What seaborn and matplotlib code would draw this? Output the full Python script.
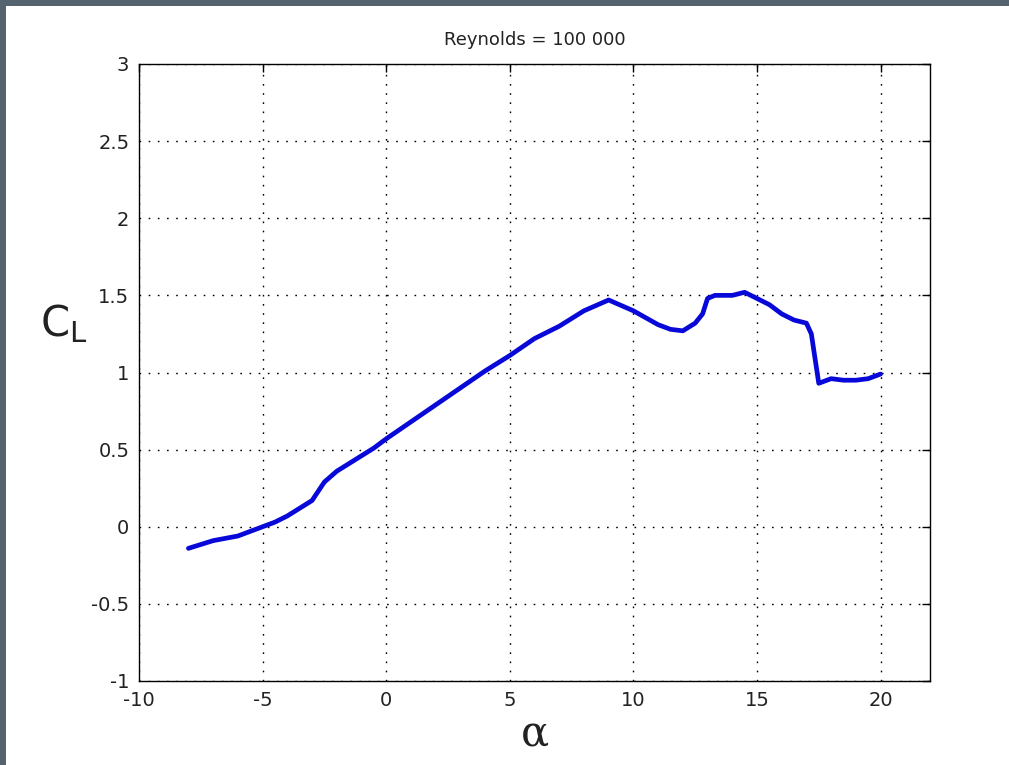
import matplotlib
matplotlib.use("Agg")
import matplotlib.pyplot as plt
from matplotlib.patches import Rectangle
import seaborn as sns
import pandas as pd

# Lift coefficient versus angle of attack
alpha = [-8, -7, -6, -5.5, -5, -4.5, -4, -3.5, -3, -2.5, -2, -1.5, -1, -0.5,
         0, 1, 2, 3, 4, 5, 6, 7, 8, 9, 10, 11, 11.5, 12, 12.5, 12.8, 13,
         13.3, 14, 14.5, 15, 15.5, 16, 16.5, 17, 17.2, 17.5, 18, 18.5, 19,
         19.5, 20]
cl = [-0.14, -0.09, -0.06, -0.03, 0.0, 0.03, 0.07, 0.12, 0.17, 0.29, 0.36,
      0.41, 0.46, 0.51, 0.57, 0.68, 0.79, 0.90, 1.01, 1.11, 1.22, 1.30, 1.40,
      1.47, 1.40, 1.31, 1.28, 1.27, 1.32, 1.38, 1.48, 1.50, 1.50, 1.52, 1.48,
      1.44, 1.38, 1.34, 1.32, 1.25, 0.93, 0.96, 0.95, 0.95, 0.96, 0.99]

x_ticks = [-10, -5, 0, 5, 10, 15, 20]
y_ticks = [-1, -0.5, 0, 0.5, 1, 1.5, 2, 2.5, 3]
title = "Reynolds = 100 000"

df = pd.DataFrame({"alpha": alpha, "cl": cl})

sns.set_theme(style="white")
plt.rcParams["font.family"] = ["DejaVu Sans"]

W, H = 1009, 765
fig = plt.figure(figsize=(W / 100, H / 100), dpi=100)
fig.patch.set_facecolor("#55636e")
# white canvas inside the dark frame
fig.patches.append(Rectangle((6 / W, 0), 1 - 6 / W, 1 - 6 / H,
                             transform=fig.transFigure, facecolor="white",
                             edgecolor="none", zorder=-10))

ax = fig.add_axes([139 / W, 1 - 681 / H, (930 - 139) / W, (681 - 64) / H])
ax.set_zorder(5)
ax.set_facecolor("white")

sns.lineplot(data=df, x="alpha", y="cl", ax=ax, color="#0808d8",
             linewidth=3.4, estimator=None, sort=False)

ax.set_xlim(-10, 22)
ax.set_ylim(-1, 3)
ax.set_xticks(x_ticks)
ax.set_yticks(y_ticks)
ax.set_xticklabels([str(v) for v in x_ticks])
ax.set_yticklabels([f"{v:g}" for v in y_ticks])

ax.grid(True, color="black", linewidth=1.0, linestyle=(0, (1.2, 5.4)))
for s in ax.spines.values():
    s.set_visible(True)
    s.set_color("black")
    s.set_linewidth(1.0)

ax.tick_params(axis="both", which="both", direction="in", length=6,
               width=1.0, color="black", top=True, right=True,
               labelsize=14, labelcolor="#222222", pad=7)

ax.set_title(title, fontsize=13, color="#222222", pad=14)
ax.set_xlabel("\u03b1", fontsize=30, color="#222222", labelpad=2,
              family=["DejaVu Serif"])
ax.set_ylabel(r"C$_{\mathregular{L}}$", fontsize=30, color="#222222",
              rotation=0)
ax.yaxis.set_label_coords(-0.095, 0.545)

fig.savefig("out.png", dpi=100, facecolor=fig.get_facecolor())
